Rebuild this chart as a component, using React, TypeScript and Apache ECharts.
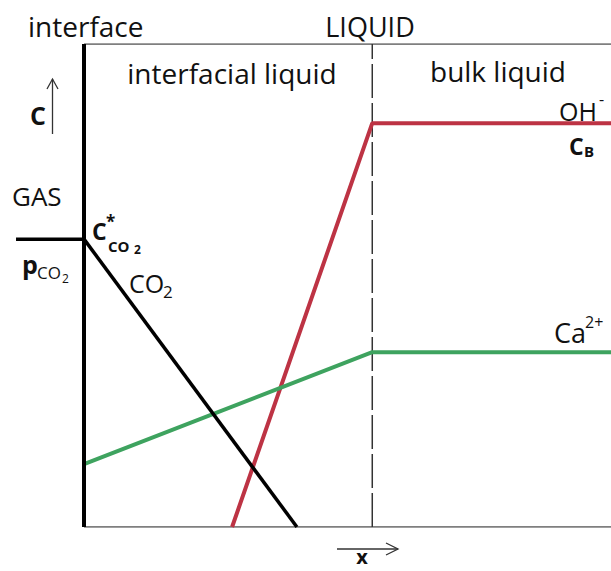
import React, { useEffect, useRef } from "react";
import * as echarts from "echarts";

// Diagram coordinates: x (distance into liquid, 0..100), y (concentration, 0..100)
const xMin = -15.94; // gas side, left of the interface
const boundaryX = 54.7; // interfacial / bulk liquid boundary
const ohX = [28.1, 54.7, 100];
const ohY = [0, 83.6, 83.6];
const caX = [0, 54.7, 100];
const caY = [13.0, 36.2, 36.2];
const co2X = [0, 40.4];
const co2Y = [59.6, 0];
const gasX = [-12.9, 0];
const gasY = [59.6, 59.6];

const FONT = '"Open Sans", "Noto Sans", sans-serif';
const RED = "#bd3344";
const GREEN = "#3ea35f";

function pairs(xs: number[], ys: number[]) {
  return xs.map((x, i) => [x, ys[i]]);
}

function lab(text: string, x: number, baseline: number, size: number, bold = false, align = "left") {
  return {
    type: "text",
    style: {
      text,
      x,
      y: baseline - 0.285 * size,
      font: `${bold ? "bold " : ""}${size}px ${FONT}`,
      fill: "#111",
      textAlign: align,
      textVerticalAlign: "middle",
    },
    z: 100,
  };
}

function seg(data: number[][], color: string, width: number, z: number, type: any = "solid") {
  return {
    type: "line",
    data,
    symbol: "none",
    lineStyle: { color, width, type },
    z,
  };
}

export default function App() {
  const ref = useRef<HTMLDivElement>(null);
  useEffect(() => {
    const chart = echarts.init(ref.current!, null, { renderer: "svg" });
    const arrowStyle = { stroke: "#333", lineWidth: 1.3, fill: "none" };
    chart.setOption({
      animation: false,
      backgroundColor: "#fff",
      grid: { left: 0, right: 0, top: 44, bottom: 44, show: false },
      xAxis: {
        type: "value",
        min: xMin,
        max: 100,
        axisLine: { show: false },
        axisTick: { show: false },
        axisLabel: { show: false },
        splitLine: { show: false },
      },
      yAxis: {
        type: "value",
        min: 0,
        max: 100,
        axisLine: { show: false },
        axisTick: { show: false },
        axisLabel: { show: false },
        splitLine: { show: false },
      },
      series: [
        seg([[0, 100], [100, 100]], "#555", 1.5, 1),
        seg([[0, 0], [100, 0]], "#555", 1.5, 1),
        seg([[boundaryX, 0], [boundaryX, 100]], "#333", 1.5, 1, [34, 5]),
        seg(pairs(ohX, ohY), RED, 4, 3),
        seg(pairs(caX, caY), GREEN, 4, 3),
        seg(pairs(co2X, co2Y), "#000", 3.5, 4),
        seg(pairs(gasX, gasY), "#000", 3.5, 4),
        seg([[0, 0], [0, 100]], "#000", 4, 5),
      ],
      graphic: [
        lab("interface", 28, 34, 28),
        lab("LIQUID", 370, 34, 27, false, "center"),
        lab("interfacial liquid", 232, 81, 28, false, "center"),
        lab("bulk liquid", 498, 79, 28, false, "center"),
        lab("C", 30, 122, 25, true),
        lab("OH", 559, 118, 25),
        lab("-", 599, 104, 16),
        lab("C", 569, 153, 23, true),
        lab("B", 584, 155, 15, true),
        lab("GAS", 12, 203, 26),
        lab("C", 92, 238, 23, true),
        lab("*", 106, 226, 17, true),
        lab("CO", 108, 250, 15, true),
        lab("2", 134, 253, 12, true),
        lab("p", 22, 271, 25, true),
        lab("CO", 37, 277, 17),
        lab("2", 62, 282, 12),
        lab("CO", 129, 290, 25),
        lab("2", 163, 296, 17),
        lab("Ca", 554, 340, 27),
        lab("2+", 585, 327, 16),
        lab("x", 362, 562, 20, true, "center"),
        { type: "line", shape: { x1: 52.5, y1: 134, x2: 52.5, y2: 79 }, style: arrowStyle },
        { type: "polyline", shape: { points: [[47, 89], [52.5, 79], [58, 89]] }, style: arrowStyle },
        { type: "line", shape: { x1: 337, y1: 549, x2: 398, y2: 549 }, style: arrowStyle },
        { type: "polyline", shape: { points: [[386, 543], [398, 549], [386, 555]] }, style: arrowStyle },
      ],
    });
    return () => chart.dispose();
  }, []);
  return (
    <div
      ref={ref}
      style={{ position: "absolute", left: 0, top: 0, width: 611, height: 571, background: "#fff" }}
    />
  );
}
